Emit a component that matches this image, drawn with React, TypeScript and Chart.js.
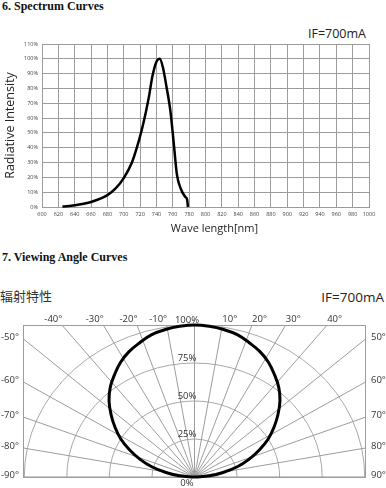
import React, { useEffect, useRef } from "react";
import { Chart, registerables } from "chart.js";

Chart.register(...registerables);

// ---------- Spectrum data ----------
const WAVELENGTHS = [625, 640, 660, 680, 690, 700, 710, 716, 722, 727, 731, 735, 740, 744, 748, 752, 757, 761, 765, 770, 775, 777.5, 778.5];
const RELATIVE_INTENSITY = [0.3, 1.2, 3.4, 8, 12.5, 19.5, 30, 40, 52, 64, 75, 88, 98, 100, 94, 82, 65, 44, 22, 12, 7, 5, 0];
const WAVE_MIN = 600;
const WAVE_MAX = 1000;
const WAVE_STEP = 20;
const INTENSITY_MAX = 110;
const INTENSITY_STEP = 10;

// ---------- Viewing angle data ----------
const VIEW_ANGLES = [-90, -85, -80, -75, -70, -65, -60, -55, -50, -45, -40, -35, -30, -25, -20, -15, -10, -5, 0, 5, 10, 15, 20, 25, 30, 35, 40, 45, 50, 55, 60, 65, 70, 75, 80, 85, 90];
const VIEW_INTENSITY = [0, 0.09, 0.17, 0.26, 0.34, 0.42, 0.5, 0.57, 0.64, 0.71, 0.77, 0.82, 0.87, 0.91, 0.94, 0.97, 0.985, 0.995, 1, 0.995, 0.985, 0.97, 0.94, 0.91, 0.87, 0.82, 0.77, 0.71, 0.64, 0.57, 0.5, 0.42, 0.34, 0.26, 0.17, 0.09, 0];
const ANGLE_TICKS = [-90, -80, -70, -60, -50, -40, -30, -20, -10, 0, 10, 20, 30, 40, 50, 60, 70, 80, 90];
const RING_VALUES = [0.25, 0.5, 0.75, 1];
const RING_LABEL_VALUES = [0, 0.25, 0.5, 0.75, 1];
const RING_LABELS = ["0%", "25%", "50%", "75%", "100%"];

// ---------- styles ----------
const GRID = "#9c9c9c";
const SANS = "'Open Sans', 'Noto Sans', sans-serif";
const X_LIMIT = 1.0074; // horizontal axis extent of the polar box
const SPOKE_STRETCH = 1.04;

const xTitlePlugin = {
  id: "xTitle",
  afterDraw(chart: any) {
    const { ctx, chartArea } = chart;
    ctx.save();
    ctx.font = `11px ${SANS}`;
    ctx.fillStyle = "#222";
    ctx.textAlign = "center";
    ctx.textBaseline = "middle";
    ctx.fillText("Wave length[nm]", (chartArea.left + chartArea.right) / 2 + 9, 229);
    ctx.restore();
  },
};

function spokeEnd(a: number, cx: number, cy: number, ca: any) {
  const t = (a * Math.PI) / 180;
  const dx = Math.sin(t) * SPOKE_STRETCH;
  const dy = Math.abs(a) === 90 ? 0 : Math.cos(t);
  let k = Infinity;
  if (Math.abs(dx) > 1e-9) k = Math.min(k, (dx > 0 ? ca.right - cx : cx - ca.left) / Math.abs(dx));
  if (dy > 1e-9) k = Math.min(k, (cy - ca.top) / dy);
  return { x: cx + dx * k, y: cy - dy * k };
}

const polarGridPlugin = {
  id: "polarGrid",
  beforeDatasetsDraw(chart: any) {
    const { ctx, chartArea: ca, scales } = chart;
    const xs = scales.x;
    const ys = scales.y;
    const cx = xs.getPixelForValue(0);
    const cy = ys.getPixelForValue(0);
    ctx.save();
    ctx.lineWidth = 1;
    ctx.strokeStyle = "#a8a8a8";
    RING_VALUES.forEach((r) => {
      const rx = xs.getPixelForValue(r) - cx;
      const ry = cy - ys.getPixelForValue(r);
      ctx.beginPath();
      ctx.ellipse(cx, cy, rx, ry, 0, Math.PI, 2 * Math.PI);
      ctx.stroke();
    });
    ctx.strokeStyle = GRID;
    ANGLE_TICKS.forEach((a) => {
      const e = spokeEnd(a, cx, cy, ca);
      ctx.beginPath();
      ctx.moveTo(cx, cy);
      ctx.lineTo(e.x, e.y);
      ctx.stroke();
    });
    ctx.strokeRect(Math.round(ca.left) + 0.5, Math.round(ca.top) + 0.5, Math.round(ca.right - ca.left) - 1, Math.round(ca.bottom - ca.top));
    ctx.restore();
  },
  afterDraw(chart: any) {
    const { ctx, chartArea: ca, scales } = chart;
    const xs = scales.x;
    const ys = scales.y;
    const cx = xs.getPixelForValue(0);
    const cy = ys.getPixelForValue(0);
    ctx.save();
    ctx.font = `9.5px ${SANS}`;
    ctx.fillStyle = "#333";
    ctx.textBaseline = "middle";
    ANGLE_TICKS.forEach((a) => {
      if (a === 0) return;
      const e = spokeEnd(a, cx, cy, ca);
      const label = `${a}°`;
      if (Math.abs(a) <= 40) {
        ctx.textAlign = a < 0 ? "right" : "left";
        ctx.fillText(label, e.x + (a < 0 ? 0.5 : 0), ca.top - 5.5);
      } else if (a < 0) {
        ctx.textAlign = "right";
        ctx.fillText(label, ca.left - 4, e.y - 1.5);
      } else {
        ctx.textAlign = "left";
        ctx.fillText(label, ca.right + 5, e.y - 1.5);
      }
    });
    ctx.textAlign = "center";
    RING_LABEL_VALUES.forEach((v, i) => {
      const py = ys.getPixelForValue(v) + (v === 0 ? 6.5 : -5);
      ctx.fillText(RING_LABELS[i], cx - 7.5, py);
    });
    ctx.restore();
  },
};

function SpectrumChart() {
  const ref = useRef<HTMLCanvasElement>(null);
  useEffect(() => {
    const tickFont = { family: SANS, size: 5.5 };
    const chart = new Chart(ref.current!, {
      type: "line",
      data: {
        datasets: [
          {
            data: WAVELENGTHS.map((w, i) => ({ x: w, y: RELATIVE_INTENSITY[i] })),
            borderColor: "#000",
            borderWidth: 2.5,
            pointRadius: 0,
            cubicInterpolationMode: "monotone",
            fill: false,
            clip: false as any,
          },
        ],
      },
      options: {
        animation: false,
        responsive: false,
        layout: { padding: { left: 0, top: 44, right: 17, bottom: 0 } },
        plugins: { legend: { display: false }, tooltip: { enabled: false } },
        scales: {
          x: {
            type: "linear",
            min: WAVE_MIN,
            max: WAVE_MAX,
            ticks: { stepSize: WAVE_STEP, font: tickFont, color: "#444", padding: 4, maxRotation: 0, autoSkip: false, callback: (v: any) => String(v) },
            grid: { color: GRID, lineWidth: 1, drawTicks: false },
            border: { color: GRID },
            afterFit: (s: any) => {
              s.height = 38;
            },
          },
          y: {
            type: "linear",
            min: 0,
            max: INTENSITY_MAX,
            ticks: { stepSize: INTENSITY_STEP, font: tickFont, color: "#444", padding: 4, callback: (v: any) => `${v}%` },
            grid: { color: GRID, lineWidth: 1, drawTicks: false },
            border: { color: GRID },
            title: { display: true, text: "Radiative Intensity", font: { family: SANS, size: 12.5 }, color: "#222", padding: { top: 3, bottom: 0 } },
            afterFit: (s: any) => {
              s.width = 42;
            },
          },
        },
      },
      plugins: [xTitlePlugin],
    });
    return () => chart.destroy();
  }, []);
  return <canvas ref={ref} width={386} height={245} style={{ position: "absolute", left: 0, top: 0, width: 386, height: 245 }} />;
}

function ViewingAngleChart() {
  const ref = useRef<HTMLCanvasElement>(null);
  useEffect(() => {
    const chart = new Chart(ref.current!, {
      type: "scatter",
      data: {
        datasets: [
          {
            data: VIEW_ANGLES.map((a, i) => {
              const t = (a * Math.PI) / 180;
              return { x: VIEW_INTENSITY[i] * Math.sin(t), y: VIEW_INTENSITY[i] * Math.cos(t) };
            }),
            showLine: true,
            borderColor: "#000",
            borderWidth: 3,
            pointRadius: 0,
            tension: 0.4,
            clip: false as any,
          },
        ],
      },
      options: {
        animation: false,
        responsive: false,
        layout: { padding: { left: 23, right: 20, top: 15, bottom: 11 } },
        plugins: { legend: { display: false }, tooltip: { enabled: false } },
        scales: {
          x: { type: "linear", display: false, min: -X_LIMIT, max: X_LIMIT },
          y: { type: "linear", display: false, min: 0, max: 1 },
        },
      },
      plugins: [polarGridPlugin],
    });
    return () => chart.destroy();
  }, []);
  return <canvas ref={ref} width={386} height={178} style={{ position: "absolute", left: 0, top: 310, width: 386, height: 178 }} />;
}

const heading: React.CSSProperties = {
  position: "absolute",
  left: 2,
  font: "bold 12px 'Liberation Serif', 'Times New Roman', serif",
  lineHeight: "14px",
  color: "#111",
  whiteSpace: "nowrap",
};

export default function App() {
  return (
    <div style={{ position: "fixed", left: 0, top: 0, width: 386, height: 488, background: "#fff", overflow: "hidden" }}>
      <div style={{ ...heading, top: -1 }}>6. Spectrum Curves</div>
      <div style={{ position: "absolute", right: 20, top: 25, font: `12.5px ${SANS}`, lineHeight: "17px", color: "#222", whiteSpace: "nowrap" }}>IF=700mA</div>
      <SpectrumChart />
      <div style={{ ...heading, top: 250 }}>7. Viewing Angle Curves</div>
      <div style={{ position: "absolute", left: 0, top: 288, font: "13px 'Noto Sans CJK SC', sans-serif", lineHeight: "16px", color: "#333", whiteSpace: "nowrap" }}>辐射特性</div>
      <div style={{ position: "absolute", right: 2, top: 287.5, font: `13.5px ${SANS}`, lineHeight: "18px", color: "#222", whiteSpace: "nowrap" }}>IF=700mA</div>
      <ViewingAngleChart />
    </div>
  );
}
